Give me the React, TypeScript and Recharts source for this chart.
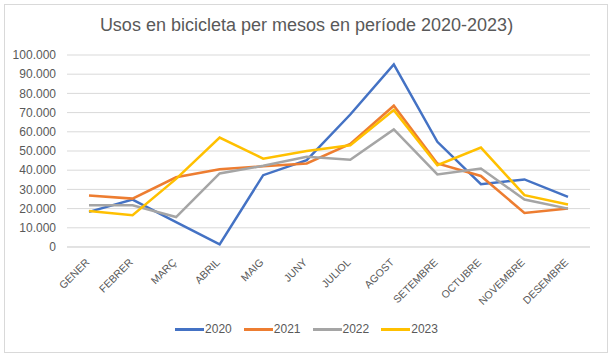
import { LineChart, Line, XAxis, YAxis, CartesianGrid } from 'recharts';

// Usos en bicicleta per mesos — una línia per any

const mesos = ['GENER', 'FEBRER', 'MARÇ', 'ABRIL', 'MAIG', 'JUNY', 'JULIOL', 'AGOST', 'SETEMBRE', 'OCTUBRE', 'NOVEMBRE', 'DESEMBRE'];

const usos2020 = [18300, 24700, 13000, 1400, 37400, 45200, 69000, 95100, 54800, 32700, 35200, 26100];
const usos2021 = [26800, 25200, 36300, 40500, 42000, 43500, 53700, 73600, 43500, 37000, 17700, 20000];
const usos2022 = [21700, 21700, 15600, 38300, 42300, 47000, 45400, 61200, 37800, 40900, 24700, 20000];
const usos2023 = [18800, 16500, 35500, 57000, 46000, 50000, 53000, 71300, 42600, 51800, 27000, 22100];

const yTicks = [0, 10000, 20000, 30000, 40000, 50000, 60000, 70000, 80000, 90000, 100000];

const series = [
  { key: 'y2020', name: '2020', color: '#4472C4' },
  { key: 'y2021', name: '2021', color: '#ED7D31' },
  { key: 'y2022', name: '2022', color: '#A5A5A5' },
  { key: 'y2023', name: '2023', color: '#FFC000' },
];

const data = mesos.map((mes, i) => ({
  mes,
  y2020: usos2020[i],
  y2021: usos2021[i],
  y2022: usos2022[i],
  y2023: usos2023[i],
}));

const FONT = '"Liberation Sans", Arial, sans-serif';
const TEXT = '#595959';

const milers = (v: number) => String(v).replace(/\B(?=(\d{3})+(?!\d))/g, '.');

function MesTick({ x, y, payload }: any) {
  return (
    <text
      x={x + 1}
      y={y + 8}
      textAnchor="end"
      fontSize={10.5}
      fill={TEXT}
      fontFamily={FONT}
      transform={`rotate(-45, ${x + 1}, ${y + 8})`}
    >
      {payload.value}
    </text>
  );
}

export default function App() {
  return (
    <div style={{ position: 'absolute', left: 0, top: 0, width: 613, height: 356, background: '#fff', fontFamily: FONT }}>
      <div style={{ position: 'absolute', left: 4, top: 4, width: 602, height: 347, border: '1px solid #d9d9d9' }} />
      <div style={{ position: 'absolute', left: 0, top: 15, width: 613, textAlign: 'center', fontSize: 18, color: TEXT }}>
        Usos en bicicleta per mesos en període 2020-2023)
      </div>
      <div style={{ position: 'absolute', left: 0, top: 0 }}>
        <LineChart width={613} height={356} data={data} margin={{ top: 55, right: 23, bottom: 0, left: 0 }}>
          <CartesianGrid vertical={false} stroke="#d9d9d9" />
          <XAxis
            dataKey="mes"
            height={109}
            interval={0}
            padding={{ left: 22, right: 22 }}
            tickLine={false}
            axisLine={{ stroke: '#d9d9d9' }}
            tick={<MesTick />}
          />
          <YAxis
            width={67}
            domain={[0, 100000]}
            ticks={yTicks}
            interval={0}
            tickFormatter={milers}
            tickLine={false}
            axisLine={false}
            tick={{ fontSize: 12, fill: TEXT, fontFamily: FONT, dx: -3 }}
          />
          {series.map((s) => (
            <Line key={s.key} type="linear" dataKey={s.key} name={s.name} stroke={s.color} strokeWidth={2.5} dot={false} isAnimationActive={false} />
          ))}
        </LineChart>
      </div>
      <div style={{ position: 'absolute', left: 0, top: 322, width: 613, display: 'flex', justifyContent: 'center', fontSize: 12, color: TEXT }}>
        {series.map((s) => (
          <div key={s.key} style={{ display: 'flex', alignItems: 'center', margin: '0 6px' }}>
            <span style={{ display: 'inline-block', width: 29, height: 3, background: s.color, marginRight: 1 }} />
            <span>{s.name}</span>
          </div>
        ))}
      </div>
    </div>
  );
}
